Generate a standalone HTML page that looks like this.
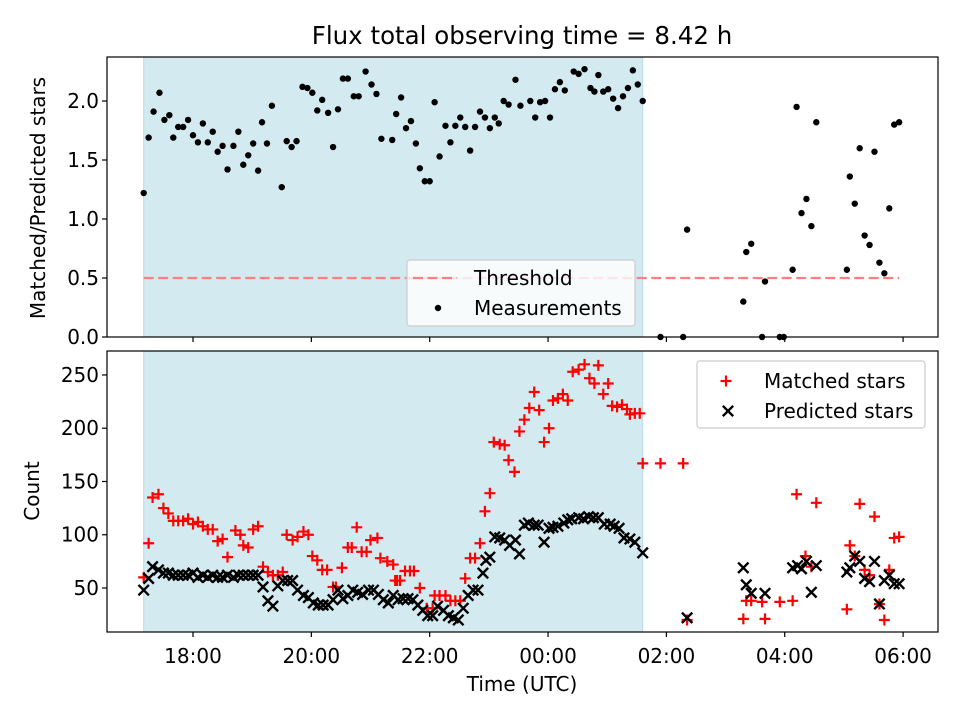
<!DOCTYPE html>
<html><head><meta charset="utf-8"><style>
body{margin:0;background:#fff}
svg{display:block;font-family:"DejaVu Sans","Liberation Sans",sans-serif}
</style></head><body>
<svg id="chart" width="960" height="720" viewBox="0 0 960 720" xmlns="http://www.w3.org/2000/svg">
<rect width="960" height="720" fill="#fff"/>
<text x="522" y="44" font-size="24.5" text-anchor="middle">Flux total observing time = 8.42 h</text>
<g id="top"></g><g id="bot"></g>
</svg>
<script>
// times in minutes relative to 18:00 UTC
const ratioTimes=[-50,-45,-40,-34,-29,-24,-20,-15,-10,-5,0,5,10,15,20,25,30,35,41,46,51,56,61,66,70,75,80,90,95,100,105,111,116,121,126,131,137,142,147,152,157,163,168,175,181,186,191,202,206,211,216,221,226,230,235,240,245,250,256,261,266,271,276,281,286,291,296,301,306,310,315,320,327,332,342,347,352,357,362,367,372,377,386,391,397,403,407,411,416,421,426,431,436,441,446,451,456,474,497,501,558,561,566,577,580,595,599,608,612,617,622,627,632,663,666,671,676,681,686,691,696,701,706,711,716];
const ratioValues=[1.22,1.69,1.91,2.07,1.84,1.88,1.69,1.78,1.78,1.84,1.71,1.65,1.81,1.65,1.74,1.57,1.62,1.42,1.62,1.74,1.46,1.54,1.64,1.41,1.82,1.64,1.96,1.27,1.66,1.61,1.66,2.12,2.11,2.07,1.92,2.01,1.90,1.61,1.93,2.19,2.19,2.04,2.04,2.25,2.14,2.06,1.68,1.67,1.89,2.03,1.77,1.83,1.64,1.43,1.32,1.32,1.99,1.53,1.79,1.65,1.79,1.86,1.78,1.58,1.78,1.91,1.86,1.77,1.86,1.81,2.0,1.97,2.18,1.96,2.0,1.86,1.99,2.0,1.86,2.10,2.16,2.09,2.25,2.23,2.27,2.11,2.08,2.22,2.08,2.10,2.02,1.94,2.04,2.11,2.26,2.14,2.0,0,0,0.91,0.30,0.72,0.79,0,0.47,0,0,0.57,1.95,1.05,1.17,0.94,1.82,0.57,1.36,1.13,1.60,0.86,0.78,1.57,0.63,0.54,1.09,1.80,1.82];
const matchedTimes=[-50,-45,-41,-35,-30,-25,-20,-15,-10,-5,0,5,10,15,20,25,30,35,43,48,51,56,61,66,71,76,81,86,91,95,101,106,112,117,121,126,131,136,142,145,151,157,161,166,171,176,180,187,190,197,203,205,207,210,215,220,224,230,237,243,245,250,256,261,266,271,276,281,286,291,296,301,305,311,316,320,326,331,336,341,346,351,356,361,365,370,375,380,385,391,397,402,407,411,416,421,425,430,435,440,443,448,453,456,474,497,501,558,561,566,577,580,595,608,612,621,627,632,663,666,671,676,681,686,691,696,701,706,711,716];
const matchedValues=[60,92,135,138,125,120,113,113,113,115,110,112,108,105,105,94,96,79,104,100,90,88,105,108,70,65,62,62,65,100,95,98,103,100,80,76,67,67,51,51,69,88,88,107,84,84,95,97,78,75,72,57,57,57,66,66,66,50,31,31,43,43,43,38,38,38,59,78,78,92,122,139,187,185,184,170,159,197,208,219,234,217,187,200,226,228,232,226,253,255,260,247,242,259,232,242,221,220,222,218,213,214,214,167,167,167,20,21,38,38,37,21,37,38,138,80,70,130,30,90,80,129,67,62,117,35,20,67,97,98];
const predictedTimes=[-50,-45,-41,-35,-30,-25,-20,-15,-10,-5,0,5,10,15,20,25,30,35,41,46,51,56,61,66,71,76,81,86,91,96,101,106,112,117,122,127,132,137,142,147,152,157,162,167,172,178,183,188,193,198,203,208,213,218,223,228,233,238,243,248,254,259,264,269,274,279,284,289,294,297,301,306,311,316,321,327,331,336,340,346,350,356,361,365,370,376,380,384,391,396,401,406,411,417,423,427,432,437,443,448,456,501,558,561,566,580,608,613,617,622,627,632,663,666,671,676,681,686,691,696,701,706,711,716];
const predictedValues=[48,59,70,67,64,64,62,62,62,62,64,60,62,60,62,60,60,62,60,62,62,62,62,62,51,38,33,52,57,57,57,48,43,41,36,34,34,34,39,48,40,43,48,46,44,48,48,44,39,36,43,39,40,40,39,34,29,24,24,33,29,24,22,20,31,43,48,48,64,76,79,98,97,95,90,95,82,109,111,109,109,93,106,107,108,111,114,115,116,115,117,116,116,110,110,108,106,97,96,93,83,22,69,53,45,45,69,71,68,75,46,71,65,69,80,75,59,56,75,35,57,62,54,54];
const xTickMinutes=[0,120,240,360,480,600,720];
const xTickLabels=["18:00","20:00","22:00","00:00","02:00","04:00","06:00"];
const topTicks=[0,0.5,1,1.5,2];
const topTickLabels=["0.0","0.5","1.0","1.5","2.0"];
const botTicks=[50,100,150,200,250];
const threshold=0.5;
const shadeRange=[-50,456];
const lineRange=[-50,716];

const NS="http://www.w3.org/2000/svg";
const L=107,R=938;
const xMin=-87.2,xMax=755.4;
function xs(m){return L+(m-xMin)/(xMax-xMin)*(R-L);}
const T={top:57,bot:337,min:0,max:2.373};
const B={top:351,bot:632,min:8.7,max:272.5};
function ysT(v){return T.bot-(v-T.min)/(T.max-T.min)*(T.bot-T.top);}
function ysB(v){return B.bot-(v-B.min)/(B.max-B.min)*(B.bot-B.top);}
function mk(tag,attrs,parent){const e=document.createElementNS(NS,tag);for(const k in attrs)e.setAttribute(k,attrs[k]);parent.appendChild(e);return e;}
const gT=document.getElementById('top'),gB=document.getElementById('bot');
const FS=20;

function panel(g,P,ys,ticks,labels,showX,name){
  const s=mk('rect',{x:xs(shadeRange[0]),y:P.top,width:xs(shadeRange[1])-xs(shadeRange[0]),height:P.bot-P.top,fill:'#d4eaf1',stroke:'#b7dcea','stroke-width':1},g);
  
  
  ticks.forEach((t,i)=>{const y=ys(t);
    mk('line',{x1:L-5,x2:L,y1:y,y2:y,stroke:'#000','stroke-width':1.2},g);
    const tx=mk('text',{x:L-8,y:y+7,'font-size':FS,'text-anchor':'end'},g);tx.textContent=labels[i];
    
    
  });
  xTickMinutes.forEach((m,i)=>{const x=xs(m);
    mk('line',{x1:x,x2:x,y1:P.bot,y2:P.bot+5,stroke:'#000','stroke-width':1.2},g);
    if(showX){const tx=mk('text',{x:x,y:P.bot+31,'font-size':FS,'text-anchor':'middle'},g);tx.textContent=xTickLabels[i];
      
      }
  });
}
panel(gT,T,ysT,topTicks,topTickLabels,false,'top');
panel(gB,B,ysB,botTicks,botTicks.map(String),true,'bottom');

const th=mk('line',{x1:xs(lineRange[0]),x2:xs(lineRange[1]),y1:ysT(threshold),y2:ysT(threshold),stroke:'#ff7f7f','stroke-width':2.2,'stroke-dasharray':'10,4.5'},gT);


ratioTimes.forEach((m,i)=>{const c=mk('circle',{cx:xs(m),cy:ysT(ratioValues[i]),r:3.2,fill:'#000'},gT);
  
  });
matchedTimes.forEach((m,i)=>{const x=xs(m),y=ysB(matchedValues[i]);
  const p=mk('path',{d:`M${x-5.5},${y}H${x+5.5}M${x},${y-5.5}V${y+5.5}`,stroke:'#f00','stroke-width':2.2,fill:'none'},gB);
  
  });
predictedTimes.forEach((m,i)=>{const x=xs(m),y=ysB(predictedValues[i]);
  const p=mk('path',{d:`M${x-5.2},${y-5.2}L${x+5.2},${y+5.2}M${x-5.2},${y+5.2}L${x+5.2},${y-5.2}`,stroke:'#000','stroke-width':2.4,fill:'none'},gB);
  
  });

[T,B].forEach((P,i)=>{const f=mk('rect',{x:L,y:P.top,width:R-L,height:P.bot-P.top,fill:'none',stroke:'#000','stroke-width':1.2},i?gB:gT);
  
  });

function legend(g,x,y,w,h,entries,name){
  const r=mk('rect',{x:x,y:y,width:w,height:h,rx:3,fill:'#fff','fill-opacity':0.8,stroke:'#ccc','stroke-width':1.2},g);
  
  
  entries.forEach((e,i)=>{const cy=y+e.dy+i*30;
    const hx=x+e.hx;
    if(e.k==='dash'){mk('line',{x1:hx-22,x2:hx+22,y1:cy,y2:cy,stroke:'#ff7f7f','stroke-width':2.2,'stroke-dasharray':'10,4.5'},g);}
    else if(e.k==='dot'){mk('circle',{cx:hx,cy:cy,r:3.2,fill:'#000'},g);}
    else if(e.k==='plus'){mk('path',{d:`M${hx-5.5},${cy}H${hx+5.5}M${hx},${cy-5.5}V${cy+5.5}`,stroke:'#f00','stroke-width':2.2},g);}
    else {mk('path',{d:`M${hx-5.2},${cy-5.2}L${hx+5.2},${cy+5.2}M${hx-5.2},${cy+5.2}L${hx+5.2},${cy-5.2}`,stroke:'#000','stroke-width':2.4},g);}
    const t=mk('text',{x:x+e.tx,y:cy+7,'font-size':FS},g);t.textContent=e.t;
    
    
  });
}
legend(gT,407,260,228,66,[{k:'dash',t:'Threshold',tx:67,hx:28,dy:18},{k:'dot',t:'Measurements',tx:67,hx:31,dy:18}],'top-legend');
legend(gB,697,361,228,67,[{k:'plus',t:'Matched stars',tx:67,hx:29,dy:20},{k:'x',t:'Predicted stars',tx:67,hx:31,dy:20}],'bottom-legend');

const yl1=mk('text',{x:0,y:0,'font-size':FS,'text-anchor':'middle',transform:'translate(45,198) rotate(-90)'},gT);yl1.textContent='Matched/Predicted stars';


const yl2=mk('text',{x:0,y:0,'font-size':FS,'text-anchor':'middle',transform:'translate(39,491) rotate(-90)'},gB);yl2.textContent='Count';


const xl=mk('text',{x:522,y:691,'font-size':FS,'text-anchor':'middle'},gB);xl.textContent='Time (UTC)';


</script>
</body></html>
